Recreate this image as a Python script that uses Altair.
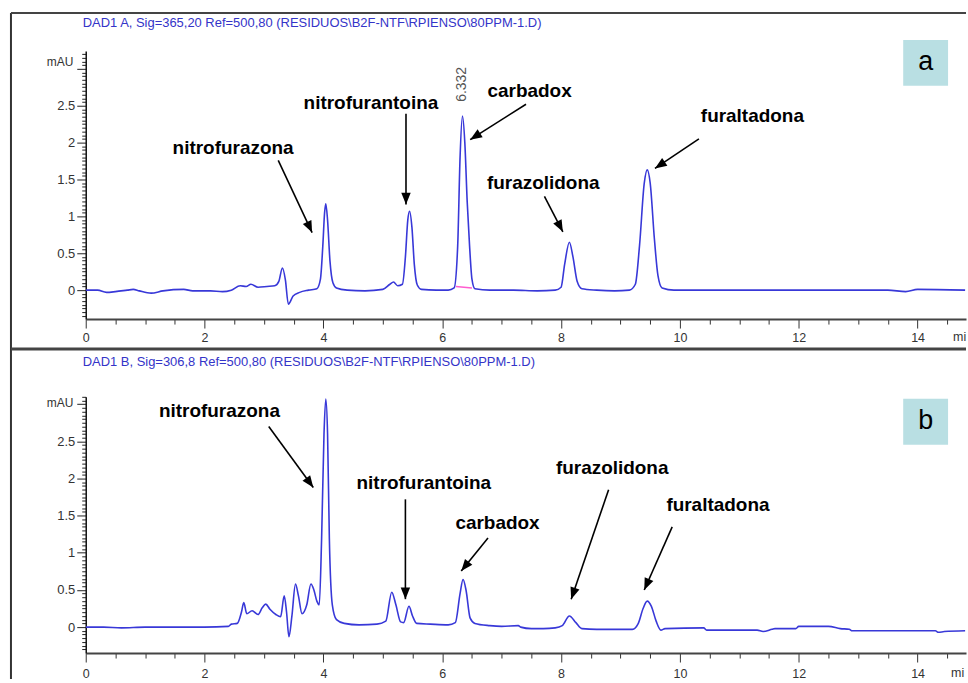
import math
import altair as alt
import pandas as pd

# ---------------- data ----------------
# Panel a: DAD1 A, 365 nm (time in min, signal in mAU)
t_a = [0.0, 0.2, 0.35, 0.5, 0.7, 0.8, 0.9, 1.1, 1.3, 1.65, 1.8, 2.1, 2.3, 2.45,
       2.6, 2.7, 2.78, 2.9, 3.05, 3.18, 3.25, 3.31, 3.36, 3.41, 3.49, 3.6, 3.75,
       3.89, 3.95, 3.99, 4.02, 4.04, 4.07, 4.11, 4.16, 4.22, 4.4, 4.7, 5.0, 5.12,
       5.18, 5.25, 5.33, 5.38, 5.42, 5.45, 5.49, 5.53, 5.58, 5.65, 5.9, 6.1, 6.2,
       6.26, 6.3, 6.34, 6.38, 6.42, 6.46, 6.5, 6.55, 6.8, 7.2, 7.6, 7.9, 8.0,
       8.06, 8.14, 8.2, 8.27, 8.35, 8.6, 8.9, 9.15, 9.25, 9.32, 9.4, 9.45, 9.5,
       9.57, 9.63, 9.7, 9.9, 10.5, 11.5, 12.5, 13.5, 13.8, 14.0, 14.8]
y_a = [0.0, 0.0, -0.03, -0.02, 0.0, 0.01, -0.01, -0.04, -0.01, 0.01, -0.01, -0.01, -0.02, 0.0,
       0.06, 0.05, 0.08, 0.04, 0.05, 0.06, 0.12, 0.30, 0.14, -0.19, -0.08, -0.03, 0.0,
       0.02, 0.15, 0.6, 1.05, 1.17, 0.95, 0.4, 0.1, 0.03, 0.0, -0.01, 0.01, 0.08,
       0.11, 0.06, 0.08, 0.45, 0.95, 1.07, 0.85, 0.35, 0.07, 0.01, 0.0, 0.0, 0.03,
       0.6, 1.8, 2.36, 2.0, 1.2, 0.6, 0.15, 0.02, 0.0, 0.0, -0.01, 0.0, 0.04,
       0.35, 0.65, 0.45, 0.12, 0.02, 0.0, -0.01, 0.0, 0.08, 0.6, 1.45, 1.63, 1.45,
       0.7, 0.2, 0.03, 0.0, 0.0, 0.0, 0.0, 0.0, -0.02, 0.01, 0.0]

# integration baseline under the carbadox peak (panel a)
pink_t = [6.23, 6.50]
pink_y = [0.05, 0.03]

# retention-time label of the carbadox peak
rt_t = [6.332]
rt_y = [2.79]
rt_txt = ["6.332"]

# Panel b: DAD1 B, 306 nm
t_b = [0.0, 0.3, 0.6, 1.0, 1.5, 2.0, 2.4, 2.45, 2.55, 2.62, 2.66, 2.71, 2.8, 2.9,
       2.97, 3.03, 3.1, 3.2, 3.28, 3.34, 3.38, 3.42, 3.47, 3.53, 3.58, 3.64, 3.72,
       3.79, 3.84, 3.89, 3.93, 3.97, 4.01, 4.04, 4.07, 4.1, 4.15, 4.22, 4.35, 4.6,
       4.9, 5.05, 5.15, 5.22, 5.3, 5.35, 5.44, 5.5, 5.57, 5.8, 6.1, 6.22, 6.3,
       6.35, 6.4, 6.47, 6.55, 6.8, 7.0, 7.28, 7.32, 7.5, 7.7, 7.9, 8.02, 8.14,
       8.25, 8.35, 8.6, 9.0, 9.2, 9.3, 9.38, 9.45, 9.52, 9.6, 9.68, 9.75, 10.4,
       10.45, 11.3, 11.4, 11.55, 11.6, 11.95, 12.0, 12.5, 12.7, 12.85, 12.9, 14.3,
       14.35, 14.45, 14.8]
y_b = [0.0, 0.0, -0.01, 0.0, 0.0, 0.0, 0.01, 0.04, 0.05, 0.2, 0.33, 0.18, 0.22, 0.17,
       0.26, 0.31, 0.24, 0.17, 0.14, 0.42, 0.2, -0.13, 0.15, 0.58, 0.42, 0.18, 0.3,
       0.58, 0.5, 0.35, 0.3, 1.2, 2.6, 3.07, 2.6, 1.2, 0.3, 0.1, 0.05, 0.03,
       0.04, 0.08, 0.47, 0.3, 0.07, 0.06, 0.28, 0.15, 0.05, 0.04, 0.03, 0.06, 0.45,
       0.64, 0.5, 0.12, 0.05, 0.02, 0.01, 0.02, 0.0, -0.02, -0.02, -0.01, 0.02, 0.15,
       0.06, -0.02, -0.03, -0.03, -0.03, 0.05, 0.25, 0.35, 0.28, 0.08, -0.04, -0.02, -0.01,
       -0.04, -0.04, -0.06, -0.03, -0.02, -0.02, 0.01, 0.01, -0.02, -0.03, -0.05, -0.05,
       -0.07, -0.06, -0.05]

compounds = ["nitrofurazona", "nitrofurantoina", "carbadox", "furazolidona", "furaltadona"]

# annotation label centres and arrows (tail -> head), panel a
la_t = [2.48, 4.80, 7.47, 7.70, 11.22]
la_y = [1.93, 2.53, 2.70, 1.45, 2.36]
aa_t0 = [3.24, 5.39, 7.41, 7.72, 10.32]
aa_y0 = [1.76, 2.39, 2.52, 1.27, 2.05]
aa_t1 = [3.81, 5.39, 6.47, 8.03, 9.58]
aa_y1 = [0.78, 1.16, 2.04, 0.79, 1.65]

# panel b
lb_t = [2.25, 5.69, 6.93, 8.86, 10.64]
lb_y = [2.91, 1.94, 1.40, 2.14, 1.65]
ab_t0 = [3.08, 5.38, 6.77, 8.80, 9.87]
ab_y0 = [2.70, 1.72, 1.20, 1.85, 1.35]
ab_t1 = [3.83, 5.38, 6.32, 8.17, 9.40]
ab_y1 = [1.88, 0.376, 0.755, 0.376, 0.50]

title_a = "DAD1 A, Sig=365,20 Ref=500,80 (RESIDUOS\\B2F-NTF\\RPIENSO\\80PPM-1.D)"
title_b = "DAD1 B, Sig=306,8 Ref=500,80 (RESIDUOS\\B2F-NTF\\RPIENSO\\80PPM-1.D)"
x_unit = "mi"   # the axis unit "min" is cut at the right border in the original

# ---------------- styling ----------------
W = 883
XMAX = 14.815
TRACE = "#3838d8"
LBL_FONT = "Liberation Sans, Arial, sans-serif"
AX_FONT = "Liberation Sans, Arial, sans-serif"
ARROW_PATH = "M0,0L-0.4,1L0.4,1Z"

x_vals = [i * 0.5 for i in range(0, 30)]


def x_axis(pad):
    return alt.Axis(
        values=x_vals,
        labelExpr="datum.value % 2 == 0 ? toString(datum.value) : ''",
        tickSize={"condition": {"test": "datum.value % 2 == 0", "value": 9}, "value": 5},
        tickColor="#333", tickWidth=1,
        domainColor="#444", domainWidth=2,
        labelFont=AX_FONT, labelFontSize=12.5, labelColor="#333", labelPadding=pad,
        labelFlush=False, labelOverlap=False, labelBound=False,
        grid=False, title=None,
    )


def y_axis(lo, hi, title_y):
    vals = []
    k = math.ceil(lo / 0.05 - 1e-6)
    while k * 0.05 <= hi + 1e-9:
        vals.append(round(k * 0.05, 2))
        k += 1
    major = "abs(datum.value*2 - round(datum.value*2)) < 0.001"
    return alt.Axis(
        values=vals,
        labelExpr=f"datum.value <= 2.51 && {major} ? toString(round(datum.value*10)/10) : ''",
        tickSize={"condition": {"test": major, "value": 9}, "value": 4},
        tickColor="#222", tickWidth=1,
        domainColor="#111", domainWidth=1.5,
        labelFont=AX_FONT, labelFontSize=13, labelColor="#333", labelPadding=2,
        labelOverlap=False, labelFlush=False, labelBound=False,
        grid=False,
        title="mAU", titleFont=AX_FONT, titleFontSize=12, titleFontWeight="normal",
        titleColor="#333", titleAngle=0, titleAlign="right", titleBaseline="middle",
        titleX=-13, titleY=title_y,
    )


def panel(t, y, lt, ly, t0, y0, t1, y1, lo, hi, height, title_y_axis, title,
          title_dy, box_letter, box_y, frame_top, frame_bottom, top_rule_width,
          xpad, unit_x, extra=None):
    xs = alt.Scale(domain=[0, XMAX], nice=False, zero=False)
    ys = alt.Scale(domain=[lo, hi], nice=False, zero=False)
    xa = x_axis(xpad)
    ya = y_axis(lo, hi, title_y_axis)
    pxx = W / XMAX
    pxy = height / (hi - lo)

    trace = alt.Chart(pd.DataFrame({"t": t, "v": y})).mark_line(
        color=TRACE, strokeWidth=1.6, interpolate="monotone", clip=True
    ).encode(
        x=alt.X("t:Q", scale=xs, axis=xa),
        y=alt.Y("v:Q", scale=ys, axis=ya),
        order="t:Q",
    )

    angles = []
    for a0, b0, a1, b1 in zip(t0, y0, t1, y1):
        dx = (a1 - a0) * pxx
        dy = -(b1 - b0) * pxy
        angles.append(math.degrees(math.atan2(dx, -dy)) % 360)

    arr = pd.DataFrame({"t": t0, "v": y0, "t1": t1, "v1": y1, "ang": angles})
    shafts = alt.Chart(arr).mark_rule(color="black", strokeWidth=1.6).encode(
        x=alt.X("t:Q", scale=xs, axis=xa),
        y=alt.Y("v:Q", scale=ys, axis=ya),
        x2="t1:Q", y2="v1:Q",
    )
    heads = alt.Chart(arr).mark_point(
        shape=ARROW_PATH, filled=True, color="black", opacity=1, size=560, strokeWidth=0
    ).encode(
        x=alt.X("t1:Q", scale=xs, axis=xa),
        y=alt.Y("v1:Q", scale=ys, axis=ya),
        angle=alt.Angle("ang:Q", scale=None),
    )
    labels = alt.Chart(pd.DataFrame({"t": lt, "v": ly, "name": compounds})).mark_text(
        font=LBL_FONT, fontSize=19, fontWeight="bold", color="black",
        align="center", baseline="middle"
    ).encode(
        x=alt.X("t:Q", scale=xs, axis=xa),
        y=alt.Y("v:Q", scale=ys, axis=ya),
        text="name:N",
    )

    one = pd.DataFrame({"k": [0]})
    frame_left = alt.Chart(one).mark_rule(color="#333", strokeWidth=2).encode(
        x=alt.value(-75), y=alt.value(frame_top), y2=alt.value(frame_bottom))
    frame_top_rule = alt.Chart(one).mark_rule(color="#444", strokeWidth=top_rule_width).encode(
        x=alt.value(-75), x2=alt.value(W), y=alt.value(frame_top))
    head_text = alt.Chart(one).mark_text(
        font="Liberation Sans Narrow, Liberation Sans, Arial, sans-serif", fontSize=13,
        color="#3434c8", align="left", baseline="middle"
    ).encode(x=alt.value(-3), y=alt.value(title_dy), text=alt.value(title))
    unit_text = alt.Chart(one).mark_text(
        font=AX_FONT, fontSize=12.5, color="#333", align="left", baseline="middle"
    ).encode(x=alt.value(unit_x), y=alt.value(height + 14 + xpad), text=alt.value(x_unit))
    box = alt.Chart(one).mark_rect(color="#b9dfe3").encode(
        x=alt.value(820), x2=alt.value(865), y=alt.value(box_y), y2=alt.value(box_y + 46))
    box_txt = alt.Chart(one).mark_text(
        font=LBL_FONT, fontSize=27, color="black", align="center", baseline="middle"
    ).encode(x=alt.value(842.5), y=alt.value(box_y + 22), text=alt.value(box_letter))

    layers = [trace]
    if extra is not None:
        layers += extra(xs, ys, xa, ya)
    layers += [shafts, heads, labels, frame_left, frame_top_rule, head_text, unit_text,
               box, box_txt]
    return alt.layer(*layers).properties(width=W, height=height)


def extra_a(xs, ys, xa, ya):
    pink = alt.Chart(pd.DataFrame({"t": pink_t, "v": pink_y})).mark_line(
        color="#ff5ccf", strokeWidth=1.6
    ).encode(x=alt.X("t:Q", scale=xs, axis=xa), y=alt.Y("v:Q", scale=ys, axis=ya))
    rt = alt.Chart(pd.DataFrame({"t": rt_t, "v": rt_y, "s": rt_txt})).mark_text(
        font=AX_FONT, fontSize=14, color="#555", angle=270, align="center", baseline="middle"
    ).encode(x=alt.X("t:Q", scale=xs, axis=xa), y=alt.Y("v:Q", scale=ys, axis=ya), text="s:N")
    return [pink, rt]


pa = panel(t_a, y_a, la_t, la_y, aa_t0, aa_y0, aa_t1, aa_y1,
           -0.392, 3.243, 269, 11, title_a, -28, "a", -11, -38, 299, 2, 4, 870,
           extra=extra_a)
pb = panel(t_b, y_b, lb_t, lb_y, ab_t0, ab_y0, ab_t1, ab_y1,
           -0.349, 3.10, 257, 6, title_b, -35, "b", 2, -48, 283, 3, 6, 868)

chart = alt.vconcat(pa, pb, spacing=78, bounds="flush").properties(
    padding={"left": 9, "top": 11, "right": 0, "bottom": 0},
    background="white",
).configure_view(stroke=None)

chart.save("out.html", embed_options={"renderer": "svg", "actions": False})
